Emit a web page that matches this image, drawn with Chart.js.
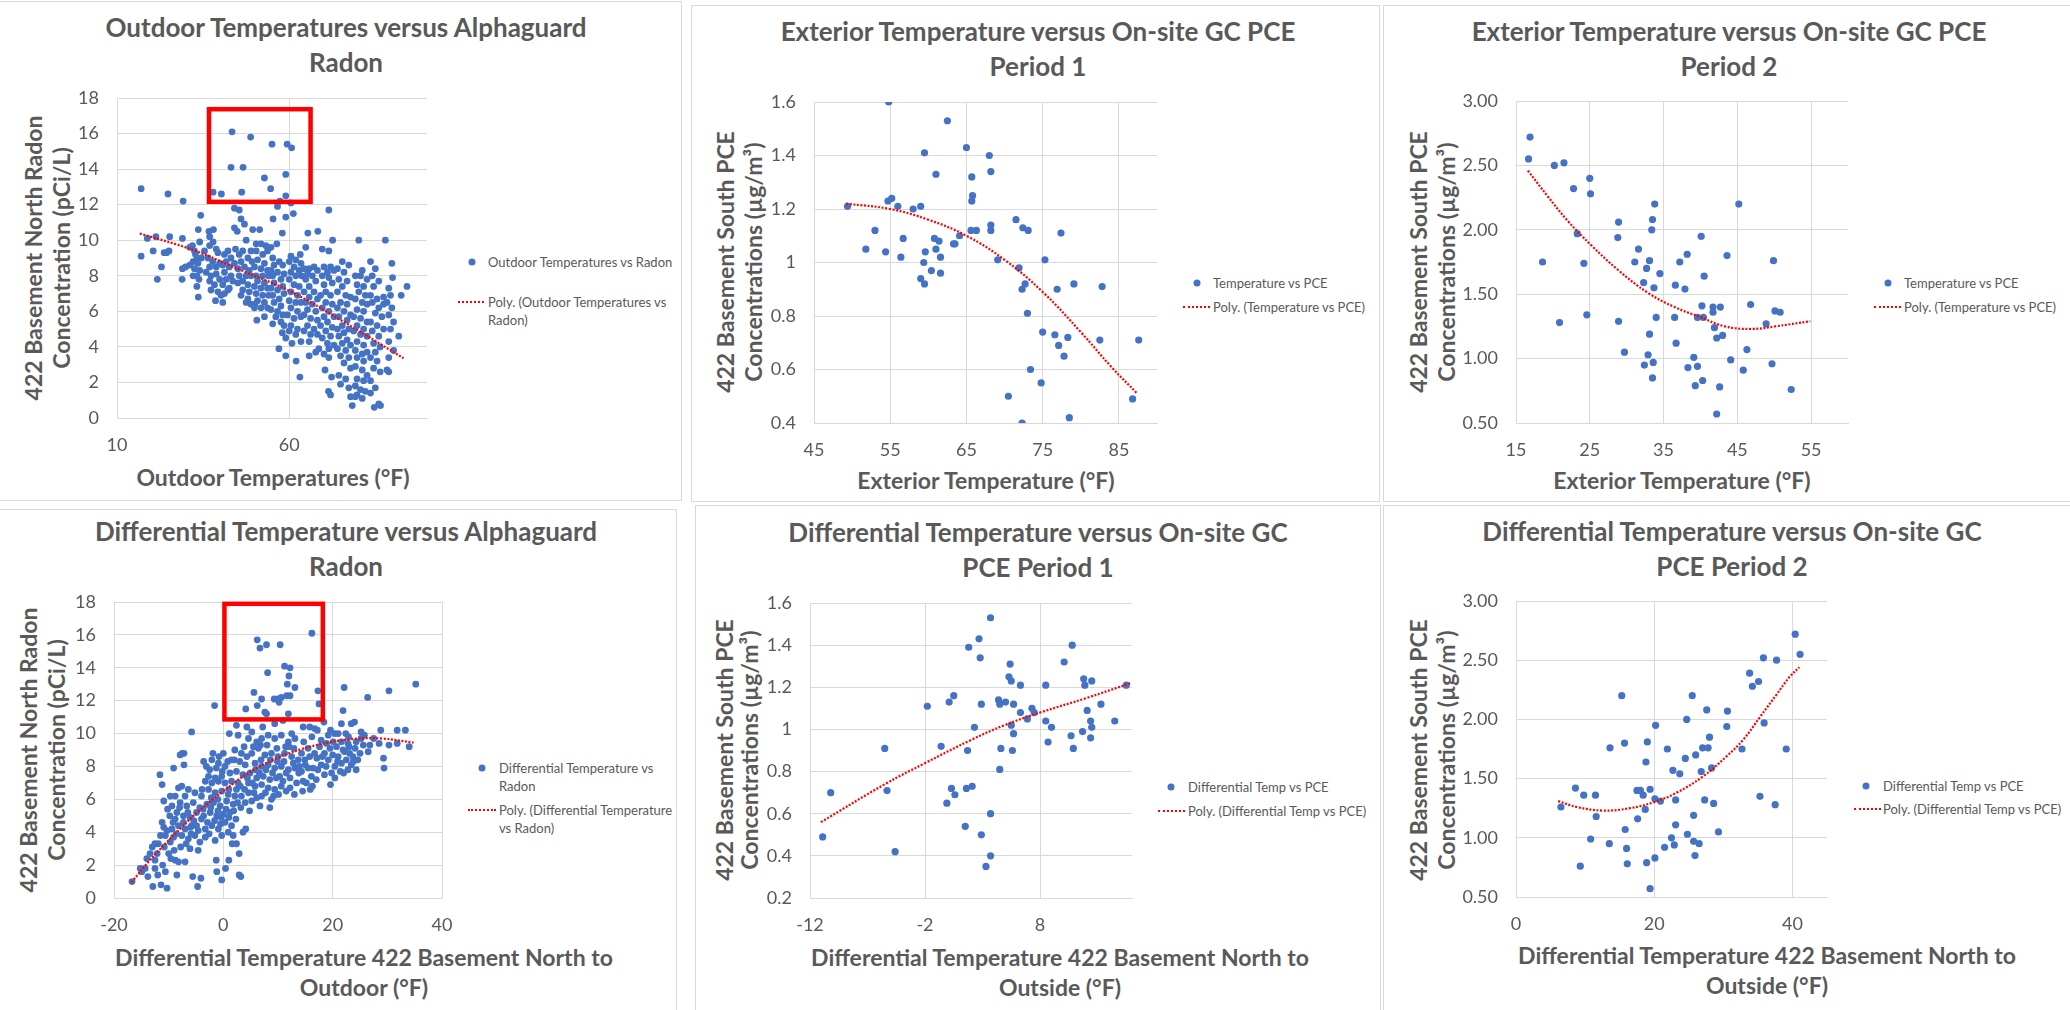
<!DOCTYPE html>
<html>
<head>
<meta charset="utf-8">
<title>Temperature vs Radon / PCE</title>
<script src="https://cdn.jsdelivr.net/npm/chart.js@4.4.1/dist/chart.umd.min.js"></script>
<style>
  body { margin: 0; background: #fff; }
  #page { position: relative; width: 2070px; height: 1010px; overflow: hidden; background: #fff;
          font-family: Lato, "Open Sans", sans-serif; color: #595959; }
  #page canvas { position: absolute; }
  .frame { position: absolute; border: 1px solid #d9d9d9; box-sizing: border-box; }
  .t { position: absolute; transform: translate(-50%, -50%); white-space: nowrap; text-align: center; font-weight: bold; }
  .title { font-size: 26px; line-height: 35px; }
  .xt { font-size: 23px; line-height: 30px; }
  .yt { font-size: 23px; transform: translate(-50%, -50%) rotate(-90deg); }
  .lg { position: absolute; font-size: 13px; line-height: 18px; white-space: nowrap; }
  .dot { position: absolute; width: 7px; height: 7px; border-radius: 50%; background: #4472c4; transform: translate(-50%, -50%); }
  .dash { position: absolute; height: 0; border-top: 2px dotted #ff0000; }
</style>
</head>
<body>
<div id="page">
  <div class="frame" style="left:-1px;top:1px;width:683px;height:500px"></div>
  <div class="frame" style="left:691px;top:5px;width:689px;height:497px"></div>
  <div class="frame" style="left:1383px;top:5px;width:690px;height:497px"></div>
  <div class="frame" style="left:-1px;top:509px;width:678px;height:503px"></div>
  <div class="frame" style="left:695px;top:505px;width:686px;height:507px"></div>
  <div class="frame" style="left:1383px;top:505px;width:690px;height:507px"></div>

  <div class="t title" style="left:346px;top:45px">Outdoor Temperatures versus Alphaguard<br>Radon</div>
  <div class="t title" style="left:1038px;top:49px">Exterior Temperature versus On-site GC PCE<br>Period 1</div>
  <div class="t title" style="left:1729px;top:49px">Exterior Temperature versus On-site GC PCE<br>Period 2</div>
  <div class="t title" style="left:346px;top:549px">Differential Temperature versus Alphaguard<br>Radon</div>
  <div class="t title" style="left:1038px;top:550px">Differential Temperature versus On-site GC<br>PCE Period 1</div>
  <div class="t title" style="left:1732px;top:549px">Differential Temperature versus On-site GC<br>PCE Period 2</div>

  <div class="t yt" style="left:47px;top:258px;line-height:28px">422 Basement North Radon<br>Concentration (pCi/L)</div>
  <div class="t yt" style="left:739px;top:262px;line-height:28px">422 Basement South PCE<br>Concentrations (µg/m³)</div>
  <div class="t yt" style="left:1432px;top:262px;line-height:28px">422 Basement South PCE<br>Concentrations (µg/m³)</div>
  <div class="t yt" style="left:42px;top:750px;line-height:28px">422 Basement North Radon<br>Concentration (pCi/L)</div>
  <div class="t yt" style="left:737px;top:750px;line-height:25px">422 Basement South PCE<br>Concentrations (µg/m³)</div>
  <div class="t yt" style="left:1432px;top:750px;line-height:28px">422 Basement South PCE<br>Concentrations (µg/m³)</div>

  <div class="t xt" style="left:273px;top:477px">Outdoor Temperatures (°F)</div>
  <div class="t xt" style="left:986px;top:480px">Exterior Temperature (°F)</div>
  <div class="t xt" style="left:1682px;top:480px">Exterior Temperature (°F)</div>
  <div class="t xt" style="left:364px;top:972px">Differential Temperature 422 Basement North to<br>Outdoor (°F)</div>
  <div class="t xt" style="left:1060px;top:972px">Differential Temperature 422 Basement North to<br>Outside (°F)</div>
  <div class="t xt" style="left:1767px;top:970px">Differential Temperature 422 Basement North to<br>Outside (°F)</div>

  <div class="dot" style="left:472px;top:262px"></div>
  <div class="lg" style="left:488px;top:253px">Outdoor Temperatures vs Radon</div>
  <div class="dash" style="left:458px;top:301px;width:26px"></div>
  <div class="lg" style="left:488px;top:293px">Poly. (Outdoor Temperatures vs<br>Radon)</div>

  <div class="dot" style="left:1197px;top:283px"></div>
  <div class="lg" style="left:1213px;top:274px">Temperature vs PCE</div>
  <div class="dash" style="left:1183px;top:306px;width:27px"></div>
  <div class="lg" style="left:1213px;top:298px">Poly. (Temperature vs PCE)</div>

  <div class="dot" style="left:1888px;top:283px"></div>
  <div class="lg" style="left:1904px;top:274px">Temperature vs PCE</div>
  <div class="dash" style="left:1874px;top:306px;width:27px"></div>
  <div class="lg" style="left:1904px;top:298px">Poly. (Temperature vs PCE)</div>

  <div class="dot" style="left:482px;top:768px"></div>
  <div class="lg" style="left:499px;top:759px">Differential Temperature vs<br>Radon</div>
  <div class="dash" style="left:468px;top:809px;width:28px"></div>
  <div class="lg" style="left:499px;top:801px">Poly. (Differential Temperature<br>vs Radon)</div>

  <div class="dot" style="left:1171px;top:787px"></div>
  <div class="lg" style="left:1188px;top:778px">Differential Temp vs PCE</div>
  <div class="dash" style="left:1158px;top:810px;width:27px"></div>
  <div class="lg" style="left:1188px;top:802px">Poly. (Differential Temp vs PCE)</div>

  <div class="dot" style="left:1866px;top:786px"></div>
  <div class="lg" style="left:1883px;top:777px">Differential Temp vs PCE</div>
  <div class="dash" style="left:1854px;top:808px;width:27px"></div>
  <div class="lg" style="left:1883px;top:800px">Poly. (Differential Temp vs PCE)</div>
</div>

<script>
// ---- tick values ----
const outdoorTempTicks = [10, 60];
const exteriorTemp1Ticks = [45, 55, 65, 75, 85];
const exteriorTemp2Ticks = [15, 25, 35, 45, 55];
const diffRadonTicks = [-20, 0, 20, 40];
const diffPce1Ticks = [-12, -2, 8];
const diffPce2Ticks = [0, 20, 40];
const radonTicks = [0, 2, 4, 6, 8, 10, 12, 14, 16, 18];
const pce1Ticks = [0.4, 0.6, 0.8, 1.0, 1.2, 1.4, 1.6];
const pce1DiffTicks = [0.2, 0.4, 0.6, 0.8, 1.0, 1.2, 1.4, 1.6];
const pce2Ticks = [0.5, 1.0, 1.5, 2.0, 2.5, 3.0];

// ---- outdoor temperature (F) vs radon (pCi/L) ----
const outdoorRadon = [
  [17.0,12.9],[18.8,10.1],[21.3,10.2],[17.0,9.1],[20.5,9.4],
  [21.7,7.8],[22.9,8.5],[23.7,9.3],[25.1,9.4],[24.4,9.3],[25.3,10.2],[24.8,12.6],
  [29.2,12.2],[29.0,10.1],[29.0,8.4],[28.9,7.8],[29.9,8.5],[31.1,9.6],
  [34.3,11.4],[33.6,10.6],[34.0,9.9],[31.9,9.7],[32.5,9.4],[32.8,9.2],[33.2,8.9],[32.1,8.8],[33.5,8.7],[31.1,8.6],
  [32.5,8.4],[34.0,8.3],[33.2,8.0],[32.1,8.0],[33.8,7.8],[33.2,7.4],[33.6,6.8],[34.5,9.0],
  [36.7,10.5],[38.0,10.6],[36.9,10.2],[37.9,9.9],[36.9,9.7],[38.8,9.5],[39.3,9.3],[36.4,9.0],[37.8,8.8],[36.9,8.5],
  [38.8,8.5],[39.8,8.7],[35.9,8.2],[37.3,8.0],[38.8,8.1],[36.9,7.7],[38.3,7.5],[39.8,7.8],[37.3,7.2],[39.3,7.1],
  [38.6,6.6],[40.7,6.5],[37.9,12.7],[35.4,9.4],
  [40.3,12.6],[43.1,14.1],[43.4,16.1],[44.1,11.8],[41.2,9.2],[42.2,9.4],[43.1,9.0],[41.7,8.8],[40.7,8.6],[42.6,8.5],
  [44.1,8.7],[41.2,8.2],[43.1,8.0],[41.7,7.8],[43.6,7.7],[40.7,7.5],[42.6,7.3],[41.2,7.0],[40.2,6.9],[44.1,10.7],
  [42.2,7.2],[44.4,9.5],
  [44.9,10.5],[45.5,11.7],[46.0,11.2],[47.0,10.9],[46.6,14.1],[46.2,12.7],[48.8,15.8],[47.5,10.0],[49.4,10.6],[45.5,9.2],
  [46.5,9.4],[48.0,9.0],[48.9,9.4],[46.0,8.8],[45.1,8.4],[47.0,8.5],[48.4,8.3],[45.5,8.0],[47.5,8.0],[48.9,8.0],
  [46.5,7.7],[45.1,7.6],[48.0,7.5],[46.5,7.2],[48.4,7.1],[46.0,6.9],[48.0,6.7],[48.9,6.4],[47.5,6.5],[49.2,8.8],
  [51.4,10.6],[52.8,13.5],[50.4,9.8],[51.8,9.8],[53.2,9.7],[50.4,9.4],[52.3,9.2],[53.7,9.4],[50.8,8.9],[52.8,8.7],
  [49.9,8.5],[51.8,8.4],[53.7,8.3],[50.4,8.0],[52.3,8.0],[54.0,8.0],[50.8,7.7],[52.8,7.6],[49.9,7.4],[51.8,7.3],
  [53.7,7.3],[50.4,7.0],[52.3,6.9],[54.0,6.9],[50.8,6.6],[52.8,6.5],[49.9,6.2],[51.8,6.2],[53.7,6.2],[50.6,5.5],
  [52.8,5.7],[50.0,6.4],
  [55.3,11.2],[55.0,15.4],[54.6,12.9],[56.6,11.9],[57.3,12.2],[59.0,12.5],[59.0,13.7],[58.0,10.4],[59.0,11.3],[54.7,9.6],
  [56.4,9.8],[55.2,9.0],[57.1,8.8],[55.6,8.6],[58.1,8.6],[54.7,8.3],[56.6,8.2],[58.5,8.1],[55.2,8.0],[57.6,7.8],
  [55.6,7.6],[58.1,7.4],[54.7,7.3],[56.6,7.2],[58.5,7.0],[55.2,6.9],[57.1,6.7],[55.6,6.5],[57.6,6.3],[54.7,6.1],
  [56.6,6.0],[58.1,5.8],[56.1,5.7],[57.6,5.4],[58.5,5.2],[55.2,5.3],[58.0,4.8],[59.0,4.5],[57.0,3.9],[59.0,3.5],
  [59.4,15.4],[60.7,15.2],[60.5,12.1],[61.2,11.5],[60.5,9.1],[63.2,9.2],[61.9,8.9],[63.4,8.7],[60.0,8.8],[61.4,8.5],
  [62.9,8.3],[60.5,8.2],[61.9,8.0],[63.6,8.0],[60.0,7.8],[61.4,7.5],[62.9,7.4],[60.5,7.1],[62.4,6.9],[60.0,6.6],
  [61.9,6.5],[63.4,6.5],[60.5,6.2],[62.4,6.0],[59.5,5.8],[61.4,5.6],[63.4,5.7],[60.5,5.2],[62.4,5.0],[60.0,4.9],
  [61.9,4.7],[63.4,4.3],[60.8,4.2],[62.0,3.2],[63.1,2.3],
  [65.4,10.4],[68.3,10.5],[64.8,9.6],[65.8,8.4],[64.3,8.4],[67.2,8.5],[68.2,8.3],[65.3,8.1],[66.7,8.0],[64.8,7.8],
  [67.7,7.7],[65.8,7.4],[64.3,7.1],[67.2,7.1],[65.8,6.8],[68.2,6.7],[64.8,6.5],[66.7,6.4],[65.3,6.1],[67.7,6.0],
  [64.3,5.8],[66.2,5.6],[68.2,5.5],[65.3,5.2],[67.2,5.0],[64.3,4.9],[66.2,4.7],[68.2,4.7],[65.8,4.3],[67.7,3.7],
  [65.8,3.5],[68.6,3.9],
  [71.5,11.7],[72.6,10.0],[69.6,9.5],[71.5,9.4],[70.1,8.5],[72.0,8.5],[71.1,8.2],[73.0,8.3],[69.6,8.0],[71.5,7.9],
  [70.1,7.5],[72.5,7.6],[70.6,7.1],[69.1,6.9],[72.0,6.9],[70.6,6.5],[72.5,6.4],[69.6,6.2],[71.5,6.0],[70.1,5.7],
  [73.0,5.7],[71.1,5.4],[69.1,5.2],[72.5,5.1],[70.6,4.9],[72.0,4.6],[69.6,4.5],[71.1,4.2],[73.0,4.1],[71.5,3.9],
  [70.1,3.6],[71.5,3.4],[70.4,2.7],[72.3,2.3],[71.4,1.5],[72.0,1.3],
  [75.4,8.8],[77.3,8.6],[74.0,8.4],[75.9,8.2],[74.4,7.8],[76.8,7.7],[75.4,7.4],[74.0,7.1],[76.4,6.9],[77.8,6.8],
  [74.9,6.5],[76.8,6.4],[74.0,6.2],[75.9,6.0],[77.8,5.8],[74.4,5.7],[76.8,5.5],[75.4,5.2],[74.0,5.0],[77.3,5.0],
  [75.9,4.8],[74.4,4.6],[76.8,4.4],[75.4,4.2],[77.8,4.1],[74.0,3.9],[76.4,3.8],[74.9,3.5],[77.3,3.4],[75.9,3.1],
  [77.8,2.8],[74.4,2.4],[76.4,2.2],[74.9,1.9],[77.3,1.7],[77.8,1.2],[78.3,0.7],
  [80.2,10.0],[81.2,8.3],[79.2,8.0],[80.7,8.0],[82.6,7.8],[79.7,7.5],[81.6,7.4],[80.2,7.1],[82.1,6.9],[79.2,6.7],
  [81.2,6.5],[82.6,6.4],[79.7,6.1],[81.6,6.0],[78.7,5.7],[80.7,5.6],[82.6,5.4],[79.7,5.2],[81.6,5.0],[78.7,4.9],
  [80.7,4.7],[82.6,4.6],[79.7,4.3],[81.6,4.1],[79.2,3.8],[81.2,3.6],[82.6,3.7],[79.7,3.4],[81.6,3.2],[79.2,2.9],
  [81.2,2.7],[82.6,2.4],[79.7,2.2],[81.6,2.1],[79.2,1.8],[80.7,1.6],[82.1,1.5],[79.7,1.3],[81.2,1.1],[79.2,1.2],
  [87.9,10.0],[83.6,8.8],[85.0,8.4],[84.1,8.0],[86.0,7.7],[84.5,7.4],[83.6,6.9],[85.5,6.7],[87.4,6.8],[84.1,6.5],
  [86.0,6.2],[85.0,5.9],[86.9,5.7],[83.6,5.4],[85.5,5.2],[87.4,5.0],[84.1,4.9],[86.0,4.6],[84.5,4.2],[86.4,4.0],
  [85.0,3.7],[83.6,3.4],[85.5,3.2],[84.5,2.8],[86.4,2.6],[83.6,2.1],[85.0,1.7],[83.6,1.4],[86.0,0.8],[84.7,0.6],
  [86.5,0.7],
  [89.8,8.7],[90.0,7.9],[94.2,7.4],[92.5,6.9],[88.9,7.3],[89.4,6.9],[88.4,6.5],[89.8,6.2],[88.9,5.8],[90.3,5.4],
  [91.8,4.6],[89.4,5.0],[88.9,4.3],[90.3,3.8],[88.9,3.4],[88.4,2.7],[88.9,2.6],[87.4,6.4]
];
const outdoorRadonTrend = [[16.6,10.38],[32.1,9.45],[46.5,8.27],[60.0,7.15],[75.4,5.46],[93.2,3.36]];
const outdoorRadonBox = [36.7, 66.2, 12.16, 17.37];

// ---- exterior temperature vs PCE, period 1 ----
const exteriorPce1 = [
  [54.8,1.60],[62.5,1.53],[59.5,1.41],[65.0,1.43],[68.0,1.40],[68.2,1.34],[61.0,1.33],[65.7,1.32],[65.8,1.25],[65.7,1.23],
  [54.7,1.23],[55.2,1.24],[56.0,1.21],[58.0,1.20],[59.0,1.21],[49.4,1.21],[71.5,1.16],[72.4,1.13],[73.1,1.12],[77.4,1.11],
  [68.2,1.14],[68.2,1.12],[65.6,1.12],[66.3,1.12],[53.0,1.12],[56.7,1.09],[64.1,1.10],[63.3,1.07],[63.5,1.07],[60.8,1.09],
  [61.4,1.08],[51.8,1.05],[54.4,1.04],[59.6,1.04],[61.0,1.05],[61.6,1.02],[56.4,1.02],[69.1,1.01],[75.3,1.01],[59.4,1.00],
  [71.9,0.98],[60.4,0.97],[61.6,0.96],[59.0,0.94],[59.5,0.92],[72.7,0.92],[72.3,0.90],[76.9,0.90],[79.1,0.92],[82.8,0.91],
  [73.0,0.81],[75.0,0.74],[76.6,0.73],[78.3,0.72],[77.1,0.69],[77.8,0.65],[82.5,0.71],[87.6,0.71],[73.4,0.60],[74.8,0.55],
  [70.5,0.50],[86.8,0.49],[72.3,0.40],[78.5,0.42]
];
const exteriorPce1Trend = [[49.2,1.22],[55.0,1.20],[60.0,1.16],[65.0,1.10],[70.0,1.01],[75.0,0.89],[80.0,0.74],[84.0,0.61],[87.4,0.51]];

// ---- exterior temperature vs PCE, period 2 ----
const exteriorPce2 = [
  [16.9,2.72],[16.7,2.55],[20.2,2.50],[21.5,2.52],[25.0,2.40],[22.8,2.32],[25.1,2.28],[33.8,2.20],[45.2,2.20],[28.9,2.06],
  [33.5,2.08],[33.4,2.00],[23.3,1.97],[28.8,1.94],[40.1,1.95],[31.6,1.85],[18.6,1.75],[24.2,1.74],[31.1,1.75],[33.1,1.76],
  [38.2,1.81],[37.2,1.75],[43.6,1.80],[49.9,1.76],[32.7,1.70],[34.5,1.66],[40.5,1.64],[32.3,1.59],[33.7,1.55],[36.6,1.57],
  [37.9,1.54],[40.2,1.41],[41.7,1.40],[41.7,1.36],[42.7,1.40],[46.8,1.42],[50.1,1.37],[50.8,1.36],[20.9,1.28],[24.6,1.34],
  [28.9,1.29],[34.0,1.32],[36.5,1.32],[39.6,1.32],[40.4,1.32],[41.9,1.24],[42.2,1.16],[43.0,1.18],[48.9,1.27],[33.1,1.19],
  [36.7,1.12],[29.7,1.05],[32.9,1.03],[32.4,0.95],[33.6,0.97],[33.5,0.85],[39.1,1.01],[38.3,0.93],[39.6,0.94],[40.3,0.83],
  [39.3,0.79],[42.6,0.78],[44.1,0.99],[46.3,1.07],[45.8,0.91],[49.7,0.96],[52.3,0.76],[42.2,0.57]
];
const exteriorPce2Trend = [[16.6,2.46],[19.3,2.26],[22.0,2.07],[25.2,1.88],[28.8,1.69],[32.9,1.51],[36.5,1.40],[40.1,1.32],[43.3,1.25],[46.9,1.23],[50.1,1.25],[54.9,1.29]];

// ---- differential temperature vs radon ----
const diffRadon = [
  [16.2,16.1],[6.2,15.7],[6.7,15.2],[7.9,15.4],[10.4,15.4],[11.2,14.1],[12.2,14.0],[8.1,13.7],[12.0,13.5],[11.7,13.0],
  [13.1,12.8],[5.6,12.5],[7.0,12.1],[9.3,12.1],[10.0,12.1],[10.6,12.2],[11.6,12.3],[12.2,12.3],[10.2,11.9],[17.3,12.6],
  [17.5,11.8],[4.1,11.5],[6.2,11.7],[7.6,11.3],[7.9,11.2],[11.9,11.2],
  [22.1,12.8],[26.4,12.2],[30.3,12.6],[35.2,13.0],[21.9,11.4],[-1.6,11.7],
  [2.4,10.5],[4.3,10.4],[7.2,10.4],[9.4,10.6],[10.9,10.8],[12.5,10.0],[14.6,10.4],[15.8,10.4],[16.7,10.3],[17.2,10.2],
  [18.4,10.7],[21.6,10.6],[23.4,10.6],[24.0,10.7],[25.2,10.1],[28.8,10.2],[31.8,10.2],[33.3,10.2],[-5.8,10.1],[1.1,10.0],
  [5.2,10.1],
  [19.2,9.9],[20.4,10.0],[21.0,10.0],[17.9,9.6],[18.9,9.4],[20.1,9.5],[21.6,9.5],[22.8,9.4],[24.3,9.5],[25.2,9.7],
  [26.8,9.3],[28.5,9.4],[30.3,9.3],[31.8,9.4],[34.0,9.2],[20.7,9.2],[21.9,9.0],[23.1,8.8],[21.0,8.6],[22.5,8.4],
  [21.6,8.2],[23.4,8.1],[20.4,8.0],[22.8,7.8],[24.6,8.4],[29.3,8.5],[29.4,7.9],[18.5,8.8],[19.2,8.4],[17.9,8.1],
  [19.8,7.6],[20.4,7.3],[19.6,6.9],[17.3,7.8],[16.1,7.4],[16.7,8.8],[15.5,9.1],[14.3,8.8],[14.9,8.4],
  [2.7,9.9],[4.6,9.7],[6.1,9.5],[7.0,9.7],[8.2,9.9],[9.4,9.7],[10.6,9.9],[11.9,9.5],[13.1,9.7],[2.1,9.0],
  [3.3,8.8],[4.3,8.6],[5.2,8.8],[6.4,9.1],[7.6,8.7],[8.8,8.8],[10.0,8.6],[11.2,8.8],[12.5,8.6],[13.7,8.4],
  [3.0,8.3],[4.0,8.1],[5.8,8.2],[7.0,8.0],[8.2,8.1],[9.4,7.9],[10.6,8.0],[11.9,7.8],[13.1,7.9],[14.3,7.7],
  [15.5,7.9],[2.4,7.7],[3.6,7.5],[4.9,7.6],[6.1,7.3],[7.3,7.4],[8.5,7.2],[9.7,7.3],[10.9,7.1],[12.2,7.3],
  [13.4,7.0],[14.6,7.1],[4.6,7.0],[5.8,6.8],[7.0,6.9],[8.2,6.7],[9.4,6.6],[10.6,6.8],[12.2,6.7],[14.5,6.5],
  [15.9,6.6],[9.2,6.2],[5.6,6.4],[7.0,6.2],[8.5,5.5],[4.0,5.8],[5.2,5.9],[2.4,6.6],[3.3,6.2],[4.6,6.4],[2.7,7.0],
  [-2.7,7.4],[-1.5,7.3],[-0.3,7.4],[-3.3,7.1],[-2.1,7.0],[-0.9,7.1],[0.3,7.0],[1.5,7.1],[-3.6,8.3],[-2.1,8.4],
  [-0.9,8.2],[0.3,8.0],[0.0,8.8],[1.5,8.4],[-2.7,6.6],[-1.5,6.4],[-0.3,6.5],[0.9,6.3],[2.1,6.2],[-4.0,6.2],
  [-5.2,6.4],[-6.4,6.6],[-7.6,6.8],[-7.0,6.2],[-7.9,5.8],[-6.7,5.6],[-5.5,5.8],[-4.3,5.5],[-3.0,5.7],[-1.8,5.8],
  [-0.6,5.6],[0.6,5.9],[1.8,5.7],[-4.9,5.2],[-3.6,5.0],[-2.4,5.2],[-1.2,5.0],[0.0,5.1],[1.2,5.2],[-6.1,4.9],
  [-7.3,5.0],[-8.5,5.2],[-8.2,4.4],[-7.0,4.2],[-5.8,4.4],[-4.6,4.1],[-3.3,4.2],[-2.1,4.4],[-0.9,4.2],[0.3,4.6],
  [1.5,4.4],[-9.4,4.2],[-5.2,3.8],[-6.4,3.6],[-7.6,3.8],[-3.3,3.7],[-0.3,3.8],[0.9,4.0],[1.8,3.8],[1.6,3.3],
  [2.4,3.3],[3.6,4.0],[4.1,4.2],[2.9,2.7],[-4.6,2.9],[-6.1,3.0],
  [-11.6,7.5],[-11.2,6.9],[-10.9,5.9],[-9.1,7.9],[-7.5,8.8],[-7.2,8.8],[-7.9,8.7],[-7.2,8.1],[-8.2,6.7],[-8.8,6.2],
  [-9.7,6.2],[-9.4,5.6],[-11.2,4.6],[-10.9,4.3],[-10.3,4.1],[-10.6,3.8],[-9.7,3.4],[-9.1,3.7],[-12.5,3.3],[-13.4,2.7],
  [-11.9,3.3],[-10.0,2.7],[-8.8,2.3],[-8.2,2.2],[-7.0,2.2],[-12.5,2.3],[-11.1,2.0],[-12.5,1.8],[-14.3,1.8],[-15.2,1.8],
  [-14.9,1.6],[-16.7,1.0],[-12.9,0.7],[-11.4,0.8],[-10.3,0.6],[-8.5,1.4],[-10.6,1.6],[-5.6,1.3],[-4.1,1.2],[-4.7,0.7],
  [-1.3,2.3],[-1.2,1.6],[0.4,1.8],[-0.3,1.1],[1.0,2.3],[2.9,1.4],[3.2,1.3],
  [-8.8,4.8],[-8.0,5.5],[-7.3,4.6],[-6.5,5.2],[-6.0,4.3],[-5.4,4.7],[-4.9,4.4],[-4.0,4.8],[-3.7,5.4],[-2.9,4.6],
  [-2.3,5.5],[-1.6,4.7],[-1.0,5.3],[-0.4,4.9],[-6.8,3.3],[-5.9,3.9],[-4.3,3.4],[-2.6,3.9],[-1.5,3.5],[-0.5,4.5],
  [-9.8,5.0],[-10.2,5.4],[-8.6,3.9],[-7.8,3.1],[-9.0,2.9],[-3.9,6.6],[-2.2,6.1],[-1.0,6.0],[0.5,5.4],[1.0,6.6],
  [-0.2,7.7],[-1.3,7.9],[-2.5,7.8],[-3.1,8.0],[-1.9,8.8],[-0.8,8.6],
  [1.9,5.3],[2.6,5.8],[3.1,6.8],[3.9,6.6],[4.4,7.3],[5.3,7.0],[5.9,7.8],[6.6,7.6],[6.9,8.4],[7.8,7.8],
  [8.6,8.4],[9.0,7.6],[9.9,8.3],[10.3,7.4],[11.1,8.3],[11.5,7.6],[12.8,8.2],[13.9,8.0],[1.2,7.6],[0.8,8.3],
  [2.0,8.4],[3.8,9.2],[5.5,9.2],[6.8,9.3],[8.0,9.3],[9.8,9.1],[11.4,9.2],[12.9,9.1],[3.2,5.5],[6.1,6.1],
  [7.7,6.4],[8.8,6.0],[10.1,6.3],[11.5,6.5],[13.0,6.3],[6.7,5.6],[4.8,5.3],[1.0,4.9],[2.3,4.8],
  [15.0,8.1],[15.8,8.6],[16.4,7.9],[17.1,8.5],[17.6,9.2],[18.1,8.6],[18.8,8.0],[19.5,9.1],[20.0,8.7],[20.9,8.3],
  [21.4,7.7],[22.2,8.9],[23.0,9.2],[23.7,8.6],[24.1,9.1],[25.0,8.8],[25.6,9.3],[24.3,7.8],[23.8,8.3],[22.0,7.6],
  [18.5,7.5],[17.0,7.2],[13.8,7.6],[15.2,7.0],[16.3,6.8],[12.0,9.2],[14.7,9.5],[16.2,9.8],[19.6,10.2],[22.4,10.0],
  [25.8,9.9],[26.5,8.9],[27.5,9.7],[22.9,9.8],
  [-14.0,2.4],[-13.0,3.1],[-12.1,2.7],[-11.5,3.8],[-10.8,3.1],[-13.8,1.3],[-12.0,1.4],[-9.6,2.4],[-9.2,4.6]
];
const diffRadonTrend = [[-16.8,0.95],[-13.7,2.2],[-10.6,3.3],[-7.6,4.3],[-4.6,5.25],[0.0,6.5],[4.6,7.6],[9.4,8.45],[14.3,9.05],[19.2,9.45],[24.0,9.68],[28.9,9.7],[34.8,9.45]];
const diffRadonBox = [0.2, 18.2, 10.86, 17.89];

// ---- differential temperature vs PCE, period 1 ----
const diffPce1 = [
  [3.7,1.53],[2.7,1.43],[1.8,1.39],[10.8,1.40],[2.8,1.34],[5.4,1.31],[10.1,1.32],[5.3,1.25],[5.5,1.23],[6.3,1.21],
  [8.5,1.21],[11.8,1.24],[11.9,1.21],[12.5,1.23],[15.5,1.21],[0.5,1.16],[0.1,1.13],[-1.8,1.11],[2.9,1.12],[4.4,1.14],
  [4.5,1.12],[5.0,1.13],[5.7,1.12],[13.3,1.12],[7.3,1.10],[7.5,1.08],[6.3,1.08],[6.9,1.05],[12.1,1.09],[8.5,1.04],
  [12.4,1.04],[12.5,1.01],[14.5,1.04],[5.5,1.02],[2.3,1.01],[5.7,0.98],[9.0,1.01],[11.7,0.99],[8.7,0.94],[10.7,0.97],
  [12.4,0.96],[10.9,0.91],[-5.5,0.91],[-0.6,0.92],[1.7,0.90],[4.6,0.91],[5.6,0.90],[4.5,0.81],[-10.2,0.70],[-5.3,0.71],
  [0.3,0.72],[0.6,0.69],[1.6,0.72],[2.1,0.73],[-0.1,0.65],[3.7,0.60],[1.5,0.54],[2.9,0.50],[-10.9,0.49],[-4.6,0.42],
  [3.7,0.40],[3.3,0.35]
];
const diffPce1Trend = [[-11.05,0.56],[-5.5,0.74],[-2.0,0.84],[2.0,0.95],[4.9,1.02],[8.0,1.08],[12.1,1.15],[15.9,1.22]];

// ---- differential temperature vs PCE, period 2 ----
const diffPce2 = [
  [40.4,2.72],[41.1,2.55],[35.8,2.52],[37.7,2.50],[33.8,2.39],[35.1,2.32],[34.2,2.28],[15.3,2.20],[25.5,2.20],[27.6,2.08],
  [30.6,2.07],[24.7,2.00],[35.9,1.97],[20.2,1.95],[30.5,1.94],[19.0,1.81],[15.7,1.80],[13.6,1.76],[21.9,1.75],[28.0,1.85],
  [27.0,1.76],[27.8,1.76],[32.7,1.75],[39.1,1.75],[26.0,1.70],[24.5,1.67],[18.8,1.64],[28.3,1.59],[22.7,1.57],[23.7,1.54],
  [26.8,1.56],[8.6,1.42],[9.8,1.36],[11.5,1.36],[17.5,1.40],[18.0,1.40],[18.4,1.36],[19.4,1.41],[20.1,1.33],[20.9,1.31],
  [23.1,1.32],[27.3,1.32],[28.6,1.29],[35.3,1.35],[37.5,1.28],[6.5,1.26],[18.7,1.24],[11.6,1.18],[17.6,1.16],[25.7,1.19],
  [23.1,1.11],[15.8,1.07],[22.5,1.00],[24.8,1.03],[29.3,1.05],[10.8,0.99],[13.5,0.95],[16.0,0.91],[21.5,0.92],[22.9,0.94],
  [25.7,0.97],[26.5,0.95],[25.9,0.85],[20.1,0.83],[16.1,0.78],[18.9,0.79],[9.3,0.76],[19.4,0.57]
];
const diffPce2Trend = [[6.1,1.31],[8.8,1.26],[12.6,1.23],[16.5,1.25],[19.9,1.30],[23.2,1.38],[27.1,1.52],[30.5,1.69],[32.9,1.83],[35.3,2.02],[37.7,2.21],[39.6,2.36],[41.0,2.44]];

// ---- layout ----
// the y scale asks for (label half height + tick padding) above the plot,
// the x scale the same at its ends, so the outer padding has to cover that
const AXIS_W = 70, AXIS_H = 50, PAD_TOP = 40, PAD_RIGHT = 40;

const panels = [
  { plot: [117, 98, 427, 418], x: [10, 100, outdoorTempTicks], y: [0, 18, radonTicks], points: outdoorRadon, trend: outdoorRadonTrend, box: outdoorRadonBox, r: 3.4 },
  { plot: [814, 102, 1157, 423], x: [45, 90, exteriorTemp1Ticks], y: [0.4, 1.6, pce1Ticks], points: exteriorPce1, trend: exteriorPce1Trend, r: 3.6 },
  { plot: [1516, 101, 1848, 423], x: [15, 60, exteriorTemp2Ticks], y: [0.5, 3.0, pce2Ticks, 2], points: exteriorPce2, trend: exteriorPce2Trend, r: 3.6 },
  { plot: [114, 602, 442, 898], x: [-20, 40, diffRadonTicks], y: [0, 18, radonTicks], points: diffRadon, trend: diffRadonTrend, box: diffRadonBox, r: 3.4 },
  { plot: [810, 603, 1132, 898], x: [-12, 16, diffPce1Ticks], y: [0.2, 1.6, pce1DiffTicks], points: diffPce1, trend: diffPce1Trend, r: 3.6 },
  { plot: [1516, 601, 1827, 897], x: [0, 45, diffPce2Ticks], y: [0.5, 3.0, pce2Ticks, 2], points: diffPce2, trend: diffPce2Trend, r: 3.6 }
];

Chart.defaults.font.family = 'Lato, "Open Sans", sans-serif';
Chart.defaults.color = '#595959';

function axis([min, max, ticks, decimals], horizontal) {
  return {
    type: 'linear',
    min,
    max,
    afterBuildTicks: scale => { scale.ticks = ticks.map(value => ({ value })); },
    afterFit: scale => {
      if (horizontal) scale.height = AXIS_H;
      else scale.width = AXIS_W;
    },
    ticks: {
      padding: horizontal ? 16 : 18,
      color: '#595959',
      font: { size: 18 },
      callback: v => decimals ? v.toFixed(decimals) : String(+v.toFixed(2))
    },
    grid: { color: '#d9d9d9', drawTicks: false },
    border: { color: '#d9d9d9' }
  };
}

// outlined box (data units) drawn over the points
function highlightBox(box) {
  return {
    id: 'highlightBox',
    afterDatasetsDraw(chart) {
      if (!box) return;
      const { ctx, scales: { x, y } } = chart;
      const left = x.getPixelForValue(box[0]);
      const right = x.getPixelForValue(box[1]);
      const bottom = y.getPixelForValue(box[2]);
      const top = y.getPixelForValue(box[3]);
      ctx.save();
      ctx.strokeStyle = '#ff0000';
      ctx.lineWidth = 4.5;
      ctx.strokeRect(left, top, right - left, bottom - top);
      ctx.restore();
    }
  };
}

const page = document.getElementById('page');

panels.forEach(p => {
  const [L, T, R, B] = p.plot;
  const canvas = document.createElement('canvas');
  const left = L - AXIS_W;
  const top = T - PAD_TOP;
  canvas.width = R + PAD_RIGHT - left;
  canvas.height = B + AXIS_H - top;
  canvas.style.left = left + 'px';
  canvas.style.top = top + 'px';
  page.appendChild(canvas);

  new Chart(canvas, {
    type: 'scatter',
    data: {
      datasets: [
        {
          data: p.trend.map(([x, y]) => ({ x, y })),
          showLine: true,
          borderColor: '#ff0000',
          borderWidth: 2.2,
          borderDash: [2, 1.6],
          pointRadius: 0,
          tension: 0.4,
          order: 0
        },
        {
          data: p.points.map(([x, y]) => ({ x, y })),
          backgroundColor: '#4472c4',
          borderColor: '#4472c4',
          borderWidth: 0,
          pointRadius: p.r,
          order: 1
        }
      ]
    },
    options: {
      responsive: false,
      animation: false,
      events: [],
      layout: { padding: { left: 0, top: PAD_TOP, right: PAD_RIGHT, bottom: 0 } },
      plugins: {
        legend: { display: false },
        tooltip: { enabled: false },
        title: { display: false }
      },
      scales: {
        x: axis(p.x, true),
        y: axis(p.y, false)
      }
    },
    plugins: [highlightBox(p.box)]
  });
});
</script>
</body>
</html>
